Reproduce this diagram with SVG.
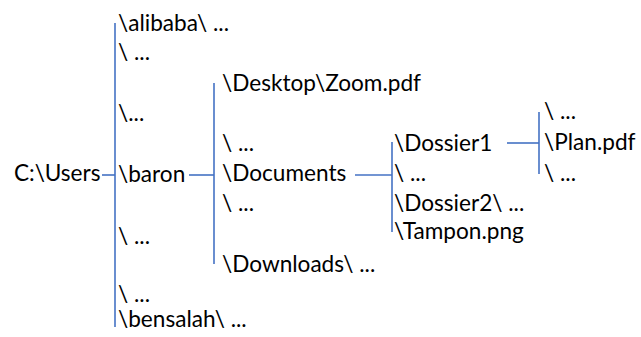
<svg xmlns="http://www.w3.org/2000/svg" width="641" height="337" viewBox="0 0 641 337">
<style>
text{font-family:Lato,"Open Sans","Liberation Sans",sans-serif;font-size:22.6px;fill:#000}
.c{stroke:#4472C4;stroke-width:1.6;fill:none}
</style>
<rect width="641" height="337" fill="#fff"/>
<g id="connectors">
<line class="c" x1="102" y1="175" x2="115" y2="175"/>
<line class="c" x1="115" y1="23" x2="115" y2="327"/>
<line class="c" x1="189" y1="175" x2="214" y2="175"/>
<line class="c" x1="214" y1="83" x2="214" y2="264"/>
<line class="c" x1="355" y1="175" x2="392" y2="175"/>
<line class="c" x1="392" y1="142" x2="392" y2="232"/>
<line class="c" x1="507" y1="143" x2="539" y2="143"/>
<line class="c" x1="539" y1="112" x2="539" y2="174"/>
</g>
<g id="users"><text x="14" y="181">C:\Users</text></g>
<g id="alibaba"><text x="118" y="31">\alibaba\ ...</text></g>
<g id="c1r2"><text x="118" y="60">\ ...</text></g>
<g id="c1r3"><text x="118" y="121">\...</text></g>
<g id="baron"><text x="118" y="182">\baron</text></g>
<g id="c1r5"><text x="118" y="244">\ ...</text></g>
<g id="c1r6"><text x="118" y="302">\ ...</text></g>
<g id="bensalah"><text x="118" y="327">\bensalah\ ...</text></g>
<g id="desktop"><text x="222" y="91">\Desktop\Zoom.pdf</text></g>
<g id="c2r2"><text x="222" y="151">\ ...</text></g>
<g id="documents"><text x="222" y="181">\Documents</text></g>
<g id="c2r4"><text x="222" y="211">\ ...</text></g>
<g id="downloads"><text x="222" y="272">\Downloads\ ...</text></g>
<g id="dossier1"><text x="394" y="151">\Dossier1</text></g>
<g id="c3r2"><text x="394" y="181">\ ...</text></g>
<g id="dossier2"><text x="394" y="211">\Dossier2\ ...</text></g>
<g id="tampon"><text x="394" y="239">\Tampon.png</text></g>
<g id="c4r1"><text x="544" y="119">\ ...</text></g>
<g id="plan"><text x="544" y="150">\Plan.pdf</text></g>
<g id="c4r3"><text x="544" y="181">\ ...</text></g>
</svg>
